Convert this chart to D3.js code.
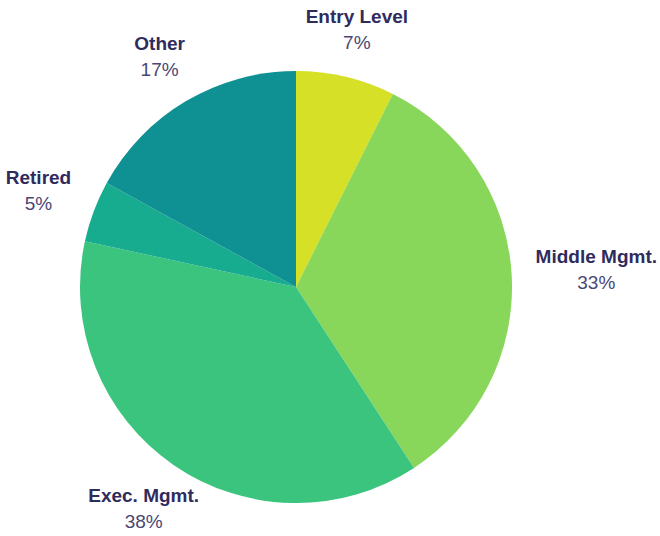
<!DOCTYPE html>
<html><head><meta charset="utf-8">
<script src="https://cdn.jsdelivr.net/npm/d3@7"></script>
<style>html,body{margin:0;padding:0;background:#fff;}</style>
</head><body>
<svg id="chart" width="660" height="536"></svg>
<script>
const categories = ["Entry Level", "Middle Mgmt.", "Exec. Mgmt.", "Retired", "Other"];
const values = [7.4, 33.4, 37.6, 4.6, 17.0];
const pctLabels = ["7%", "33%", "38%", "5%", "17%"];
const colors = ["#d5e026", "#88d65a", "#3ac47e", "#17ab8f", "#0f9093"];

const svg = d3.select("#chart");
const cx = 296, cy = 287, R = 216, pad = 24;
const data = categories.map((c, i) => ({name: c, value: values[i], pct: pctLabels[i]}));
const pie = d3.pie().value(d => d.value).sort(null);
const arc = d3.arc().innerRadius(0).outerRadius(R);
const color = d3.scaleOrdinal().domain(categories).range(colors);
const arcs = pie(data);

const g = svg.append("g").attr("transform", `translate(${cx},${cy})`);
g.selectAll("path").data(arcs).enter().append("path")
  .attr("d", arc).attr("fill", d => color(d.data.name));

const lg = svg.append("g").attr("transform", `translate(${cx},${cy})`);
arcs.forEach(a => {
  const mid = (a.startAngle + a.endAngle) / 2;
  const s = Math.sin(mid), c = -Math.cos(mid);
  const t = lg.append("g");
  t.append("text").attr("text-anchor", "middle").attr("y", -4)
    .attr("font-family", "'Liberation Sans', Arial, sans-serif")
    .attr("font-weight", "bold").attr("font-size", 19).attr("fill", "#2f2b5d")
    .text(a.data.name);
  t.append("text").attr("text-anchor", "middle").attr("y", 22)
    .attr("font-family", "'Liberation Sans', Arial, sans-serif")
    .attr("font-size", 19).attr("fill", "#4a4775")
    .text(a.data.pct);
  const bb = t.node().getBBox();
  const hw = bb.width / 2, hh = bb.height / 2;
  const ext = Math.min(Math.abs(s) > 1e-6 ? hw / Math.abs(s) : 1e9, Math.abs(c) > 1e-6 ? hh / Math.abs(c) : 1e9);
  const d = R + pad + ext;
  const bx = bb.x + hw, by = bb.y + hh;
  t.attr("transform", `translate(${s * d - bx},${c * d - by})`);
});
</script>
</body></html>
